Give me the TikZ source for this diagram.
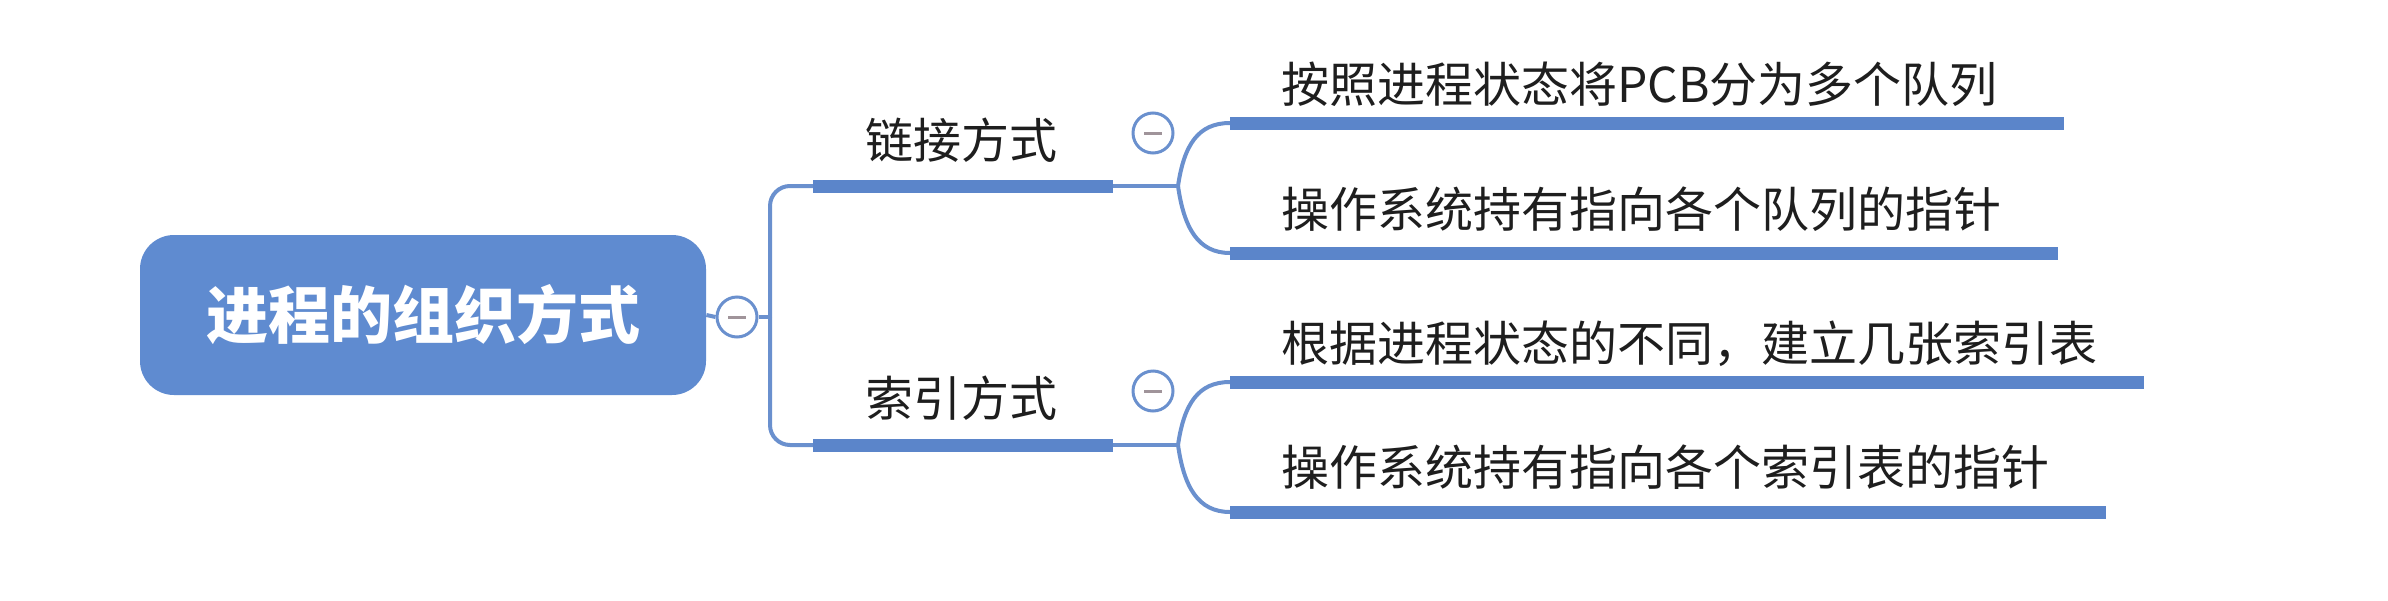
\documentclass[tikz,border=0pt]{standalone}
\usepackage{fontspec}
\newfontfamily\cjk{Noto Sans CJK SC}
\definecolor{rootblue}{HTML}{5F8BD0}
\definecolor{barblue}{HTML}{5B85CA}
\definecolor{lineblue}{HTML}{6A90CE}
\definecolor{txt}{HTML}{1E1E1E}
\definecolor{minusgray}{HTML}{A0949A}
\tikzset{
  rootbox/.style={draw=none, fill=rootblue, rounded corners=17pt,
    minimum width=283pt, minimum height=80pt, text=white, inner sep=0pt,
    font=\cjk\bfseries\fontsize{31}{36}\selectfont},
  toggle/.style={circle, draw=lineblue, line width=1.5pt, fill=white,
    minimum size=20pt, inner sep=0pt},
  minusline/.style={minusgray, line width=1.5pt},
  conn/.style={lineblue, line width=2pt},
  bar/.style={barblue, line width=6.5pt},
  subtext/.style={text=txt, inner sep=0pt, font=\cjk\fontsize{24}{28}\selectfont},
  leaftext/.style={text=txt, inner sep=0pt, anchor=west, font=\cjk\fontsize{24}{28}\selectfont},
}
\begin{document}
\begin{tikzpicture}[x=0.5pt,y=-0.5pt]
\useasboundingbox[fill=white] (0,0) rectangle (2388,600);

% root
\node[rootbox] (root) at (423,315) {进程的组织方式};
\node[toggle] (c0) at (737,317) {};
\draw[minusline] ([xshift=-4.5pt]c0.center) -- ([xshift=4.5pt]c0.center);

\coordinate (t) at (770,317);
\coordinate (b1s) at (813,186);
\coordinate (b1e) at (1113,186);
\coordinate (b2s) at (813,445);
\coordinate (b2e) at (1113,445);
\coordinate (j1) at (1178,186);
\coordinate (j2) at (1178,445);

\draw[conn] (root.east) -- (c0.west);
\draw[conn] (c0.east) -- (t);
\draw[conn, rounded corners=10pt] (t) |- (b1s);
\draw[conn, rounded corners=10pt] (t) |- (b2s);

% second level
\draw[bar] (b1s) -- (b1e);
\draw[bar] (b2s) -- (b2e);
\draw[conn] (b1e) -- (j1);
\draw[conn] (b2e) -- (j2);
\node[subtext] (s1) at (961,140) {链接方式};
\node[subtext] (s2) at (961,398) {索引方式};
\node[toggle] (c1) at (1153,133) {};
\draw[minusline] ([xshift=-4.5pt]c1.center) -- ([xshift=4.5pt]c1.center);
\node[toggle] (c2) at (1153,391) {};
\draw[minusline] ([xshift=-4.5pt]c2.center) -- ([xshift=4.5pt]c2.center);

% leaves group 1
\coordinate (l1s) at (1230,123);
\coordinate (l1e) at (2064,123);
\coordinate (l2s) at (1230,253);
\coordinate (l2e) at (2058,253);
\draw[conn] (j1) .. controls (1184,145) and (1198,123) .. (l1s);
\draw[conn] (j1) .. controls (1184,228) and (1198,253) .. (l2s);
\draw[bar] (l1s) -- (l1e);
\draw[bar] (l2s) -- (l2e);
\node[leaftext] (t1) at (1281,84) {按照进程状态将PCB分为多个队列};
\node[leaftext] (t2) at (1281,209) {操作系统持有指向各个队列的指针};

% leaves group 2
\coordinate (l3s) at (1230,382);
\coordinate (l3e) at (2144,382);
\coordinate (l4s) at (1230,512);
\coordinate (l4e) at (2106,512);
\draw[conn] (j2) .. controls (1184,404) and (1198,382) .. (l3s);
\draw[conn] (j2) .. controls (1184,487) and (1198,512) .. (l4s);
\draw[bar] (l3s) -- (l3e);
\draw[bar] (l4s) -- (l4e);
\node[leaftext] (t3) at (1281,344) {根据进程状态的不同，建立几张索引表};
\node[leaftext] (t4) at (1281,467) {操作系统持有指向各个索引表的指针};
\end{tikzpicture}
\end{document}
